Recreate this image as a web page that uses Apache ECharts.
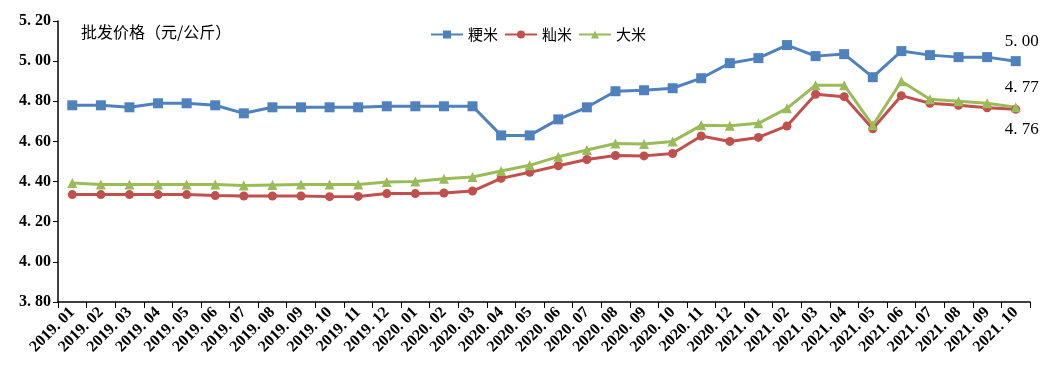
<!DOCTYPE html>
<html><head><meta charset="utf-8">
<script src="https://cdn.jsdelivr.net/npm/echarts@6/dist/echarts.min.js"></script>
<style>html,body{margin:0;padding:0;background:#fff}#c{width:1046px;height:382px}</style>
</head><body><div id="c"></div>
<script>
const categories = ['2019.01','2019.02','2019.03','2019.04','2019.05','2019.06','2019.07','2019.08','2019.09','2019.10','2019.11','2019.12',
 '2020.01','2020.02','2020.03','2020.04','2020.05','2020.06','2020.07','2020.08','2020.09','2020.10','2020.11','2020.12',
 '2021.01','2021.02','2021.03','2021.04','2021.05','2021.06','2021.07','2021.08','2021.09','2021.10'];
const japonica = [4.78,4.78,4.77,4.79,4.79,4.78,4.74,4.77,4.77,4.77,4.77,4.775,
 4.775,4.775,4.775,4.63,4.63,4.71,4.77,4.85,4.855,4.865,4.915,4.99,
 5.015,5.08,5.025,5.035,4.92,5.05,5.03,5.02,5.02,5.00];
const indica = [4.335,4.335,4.335,4.335,4.335,4.33,4.328,4.328,4.328,4.325,4.326,4.34,
 4.34,4.343,4.353,4.416,4.446,4.479,4.51,4.53,4.528,4.54,4.627,4.60,
 4.62,4.677,4.835,4.823,4.663,4.828,4.79,4.78,4.768,4.76];
const rice = [4.393,4.386,4.386,4.386,4.386,4.386,4.38,4.383,4.386,4.386,4.386,4.398,
 4.40,4.414,4.423,4.453,4.481,4.524,4.557,4.59,4.587,4.60,4.68,4.678,
 4.69,4.765,4.88,4.88,4.68,4.90,4.81,4.80,4.79,4.77];
const seriesNames = ['粳米','籼米','大米'];
const yTicks = {min:3.8, max:5.2, interval:0.2};

const chart = echarts.init(document.getElementById('c'));
const numFont = 'Liberation Serif';
const cjkFont = '"Noto Sans CJK SC"';
const dotSpace = s => s.replace('.', '. ');
function lastLabel(arr, pos, offset){
  return arr.map((v,i)=> i===arr.length-1 ? {value:v, label:{show:true, position:pos, distance:8, offset:offset,
    formatter:p=>dotSpace(p.value.toFixed(2)), fontFamily:numFont, fontSize:17, color:'#000'}} : v);
}
const common = {type:'line', lineStyle:{width:3}, symbolSize:9, animation:false};
chart.setOption({
  animation:false,
  grid:{left:58, right:16, top:21, bottom:80, containLabel:false},
  title:{text:'批发价格（元/公斤）', left:76, top:19, textStyle:{fontFamily:cjkFont, fontSize:16, fontWeight:'normal', color:'#000'}},
  legend:{top:22, left:425, itemWidth:32, itemHeight:10, itemGap:6,
    textStyle:{fontFamily:cjkFont, fontSize:15, color:'#000'},
    data:seriesNames},
  xAxis:{type:'category', data:categories, boundaryGap:true,
    axisLine:{lineStyle:{color:'#000', width:1.5}},
    axisTick:{show:true, alignWithLabel:false, length:6, lineStyle:{color:'#000'}},
    axisLabel:{rotate:45, interval:0, formatter:dotSpace, fontFamily:numFont, fontSize:16, fontWeight:'bold', color:'#000', margin:8}},
  yAxis:{type:'value', min:yTicks.min, max:yTicks.max, interval:yTicks.interval,
    splitLine:{show:false},
    axisLine:{show:true, lineStyle:{color:'#000', width:1.5}},
    axisTick:{show:true, length:5, lineStyle:{color:'#000'}},
    axisLabel:{formatter:v=>dotSpace(v.toFixed(2)), fontFamily:numFont, fontSize:16, fontWeight:'bold', color:'#000', margin:7}},
  series:[
    Object.assign({}, common, {name:seriesNames[0], data:lastLabel(japonica,'top',[6,2]), symbol:'rect', symbolSize:10,
      itemStyle:{color:'#4F81BD'}, lineStyle:{width:3, color:'#4F81BD'}}),
    Object.assign({}, common, {name:seriesNames[1], data:lastLabel(indica,'bottom',[6,-1]), symbol:'circle', symbolSize:9,
      itemStyle:{color:'#C0504D'}, lineStyle:{width:3, color:'#C0504D'}}),
    Object.assign({}, common, {name:seriesNames[2], data:lastLabel(rice,'top',[6,2]), symbol:'triangle', symbolSize:10,
      itemStyle:{color:'#9BBB59'}, lineStyle:{width:3, color:'#9BBB59'}})
  ]
});
</script></body></html>
